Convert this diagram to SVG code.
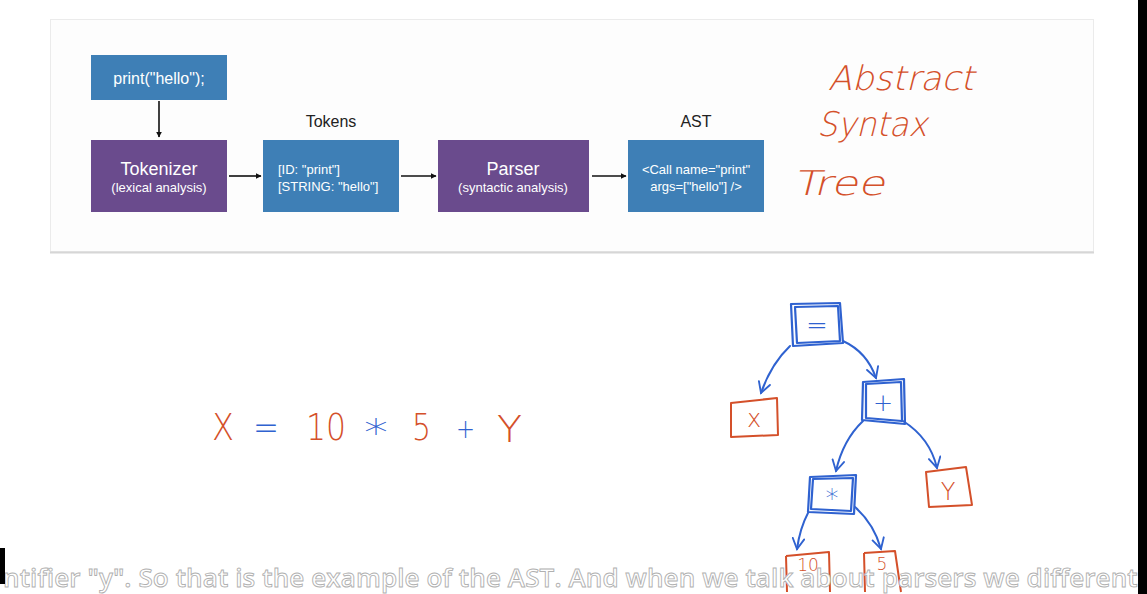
<svg xmlns="http://www.w3.org/2000/svg" width="1147" height="594" viewBox="0 0 1147 594">
<style>
.box-blue{fill:#3e7fb6}
.box-purple{fill:#6a4b8d}
.t{font-family:"Liberation Sans",Arial,sans-serif;fill:#ffffff;text-anchor:middle}
.big{font-size:18px}
.small{font-size:13px}
.lbl{font-family:"Liberation Sans",Arial,sans-serif;font-size:16px;fill:#222;text-anchor:middle}
.hand{font-family:"DejaVu Sans","Liberation Sans",sans-serif;font-weight:200}
.or{fill:#d4502a}
.bl{fill:#2f62d0}
.conn{stroke:#111;stroke-width:1.6;fill:none}
.tree-edge{stroke:#2f62d0;stroke-width:2;fill:none;stroke-linecap:round}
.obox{fill:none;stroke:#d4502a;stroke-width:2;stroke-linejoin:round}
.bbox{fill:none;stroke:#2f62d0;stroke-width:2.2;stroke-linejoin:round}
.sub{font-family:"Open Sans","Noto Sans",sans-serif;font-size:26px;font-weight:600;fill:#ffffff;stroke:#b0b0b0;stroke-width:0.9}
</style>
<defs>
<marker id="ah" viewBox="0 0 10 10" refX="9" refY="5" markerWidth="6" markerHeight="6" orient="auto" markerUnits="userSpaceOnUse">
<path d="M0,0 L10,5 L0,10 z" fill="#111"/>
</marker>
<marker id="hv" viewBox="0 0 12 12" refX="10" refY="6" markerWidth="14" markerHeight="14" orient="auto" markerUnits="userSpaceOnUse">
<path d="M1,1 L10,6 L1,11" fill="none" stroke="#2f62d0" stroke-width="1.6" stroke-linecap="round"/>
</marker>
</defs>
<rect width="1147" height="594" fill="#ffffff"/>
<!-- panel -->
<rect x="50.5" y="19.5" width="1043" height="232" fill="#fdfdfd" stroke="#ebebeb"/>
<line x1="50" y1="252.5" x2="1094" y2="252.5" stroke="#d6d6d6" stroke-width="2"/>

<g id="source">
<rect class="box-blue" x="91" y="55" width="136" height="45"/>
<text class="t" x="159" y="84" font-size="16">print("hello");</text>
</g>
<g id="tokenizer">
<rect class="box-purple" x="91" y="140" width="136" height="72"/>
<text class="t big" x="159" y="175">Tokenizer</text>
<text class="t small" x="159" y="192">(lexical analysis)</text>
</g>
<g id="tokens">
<text class="lbl" x="331" y="127">Tokens</text>
<rect class="box-blue" x="263" y="140" width="136" height="72"/>
<text class="t small" x="278" y="174" style="text-anchor:start">[ID: "print"]</text>
<text class="t small" x="278" y="191" style="text-anchor:start">[STRING: "hello"]</text>
</g>
<g id="parser">
<rect class="box-purple" x="438" y="140" width="151" height="72"/>
<text class="t big" x="513" y="175">Parser</text>
<text class="t small" x="513" y="192">(syntactic analysis)</text>
</g>
<g id="ast">
<text class="lbl" x="696" y="127">AST</text>
<rect class="box-blue" x="628" y="140" width="136" height="72"/>
<text class="t small" x="696" y="174">&lt;Call name="print"</text>
<text class="t small" x="696" y="191">args=["hello"] /&gt;</text>
</g>
<g id="connectors">
<line class="conn" x1="159" y1="101" x2="159" y2="137" marker-end="url(#ah)"/>
<line class="conn" x1="229" y1="176" x2="261" y2="176" marker-end="url(#ah)"/>
<line class="conn" x1="401" y1="176" x2="436" y2="176" marker-end="url(#ah)"/>
<line class="conn" x1="592" y1="176" x2="626" y2="176" marker-end="url(#ah)"/>
</g>

<!-- handwritten title -->
<g id="handwritten-title">
<text class="hand or" transform="translate(828,90) skewX(-14)" x="0" y="0" font-size="34" textLength="146" lengthAdjust="spacingAndGlyphs">Abstract</text>
<text class="hand or" transform="translate(817,136) skewX(-14)" x="0" y="0" font-size="34" textLength="110" lengthAdjust="spacingAndGlyphs">Syntax</text>
<text class="hand or" transform="translate(793,195) skewX(-14)" x="0" y="0" font-size="34" textLength="92" lengthAdjust="spacingAndGlyphs">Tree</text>
</g>

<!-- expression -->
<g id="expression" font-size="38">
<text class="hand or" x="212" y="440" textLength="22" lengthAdjust="spacingAndGlyphs">X</text>
<text class="hand bl" x="253" y="440" textLength="26" lengthAdjust="spacingAndGlyphs">=</text>
<text class="hand or" x="306" y="440" textLength="40" lengthAdjust="spacingAndGlyphs">10</text>
<text class="hand bl" x="364" y="446" textLength="24" lengthAdjust="spacingAndGlyphs">*</text>
<text class="hand or" x="412" y="440" textLength="19" lengthAdjust="spacingAndGlyphs">5</text>
<text class="hand bl" x="456" y="438" font-size="26" textLength="19" lengthAdjust="spacingAndGlyphs">+</text>
<text class="hand or" x="497" y="442" textLength="25" lengthAdjust="spacingAndGlyphs">Y</text>
</g>

<!-- tree -->
<g id="tree-edges">
<path class="tree-edge" d="M790,346 Q771,364 761,393" marker-end="url(#hv)"/>
<path class="tree-edge" d="M843,341 Q867,352 876,378" marker-end="url(#hv)"/>
<path class="tree-edge" d="M863,421 Q843,440 836,471" marker-end="url(#hv)"/>
<path class="tree-edge" d="M903,421 Q930,438 937,468" marker-end="url(#hv)"/>
<path class="tree-edge" d="M808,513 Q800,528 797,549" marker-end="url(#hv)"/>
<path class="tree-edge" d="M855,507 Q874,524 881,549" marker-end="url(#hv)"/>
</g>
<g id="node-eq">
<path class="bbox" d="M791,304 L840,303 L843,343 L793,346 Z"/>
<path class="bbox" d="M795,307 L838,306 L840,341 L797,343 Z" stroke-width="1.6"/>
<text class="hand bl" x="817" y="334" font-size="26" text-anchor="middle">=</text>
</g>
<g id="node-x">
<path class="obox" d="M731,403 L777,398 L778,435 L731,437 Z"/>
<text class="hand or" x="754" y="427" font-size="24" text-anchor="middle">x</text>
</g>
<g id="node-plus">
<path class="bbox" d="M863,382 L904,379 L905,424 L862,420 Z"/>
<path class="bbox" d="M866,384 L901,382 L902,421 L866,418 Z" stroke-width="1.6"/>
<text class="hand bl" x="883" y="411" font-size="24" text-anchor="middle">+</text>
</g>
<g id="node-mul">
<path class="bbox" d="M810,477 L856,475 L854,514 L808,512 Z"/>
<path class="bbox" d="M813,479 L853,478 L851,511 L811,509 Z" stroke-width="1.6"/>
<text class="hand bl" x="832" y="508" font-size="26" text-anchor="middle">*</text>
</g>
<g id="node-y">
<path class="obox" d="M926,472 L966,467 L972,505 L929,507 Z"/>
<text class="hand or" x="948" y="500" font-size="24" text-anchor="middle">Y</text>
</g>
<g id="node-10">
<path class="obox" d="M786,556 L829,552 L830,592 M786,556 L787,592"/>
<text class="hand or" x="808" y="571" font-size="17" text-anchor="middle">10</text>
</g>
<g id="node-5">
<path class="obox" d="M864,553 L895,551 L901,592 M864,553 L865,592"/>
<text class="hand or" x="882" y="570" font-size="17" text-anchor="middle">5</text>
</g>

<!-- subtitle -->
<text class="sub" x="3" y="587" textLength="1142" lengthAdjust="spacing">ntifier "y". So that is the example of the AST. And when we talk about parsers we differenti</text>
<rect x="0" y="548" width="5" height="36" fill="#000"/>
<rect x="1138" y="0" width="9" height="594" fill="#000"/>
</svg>
